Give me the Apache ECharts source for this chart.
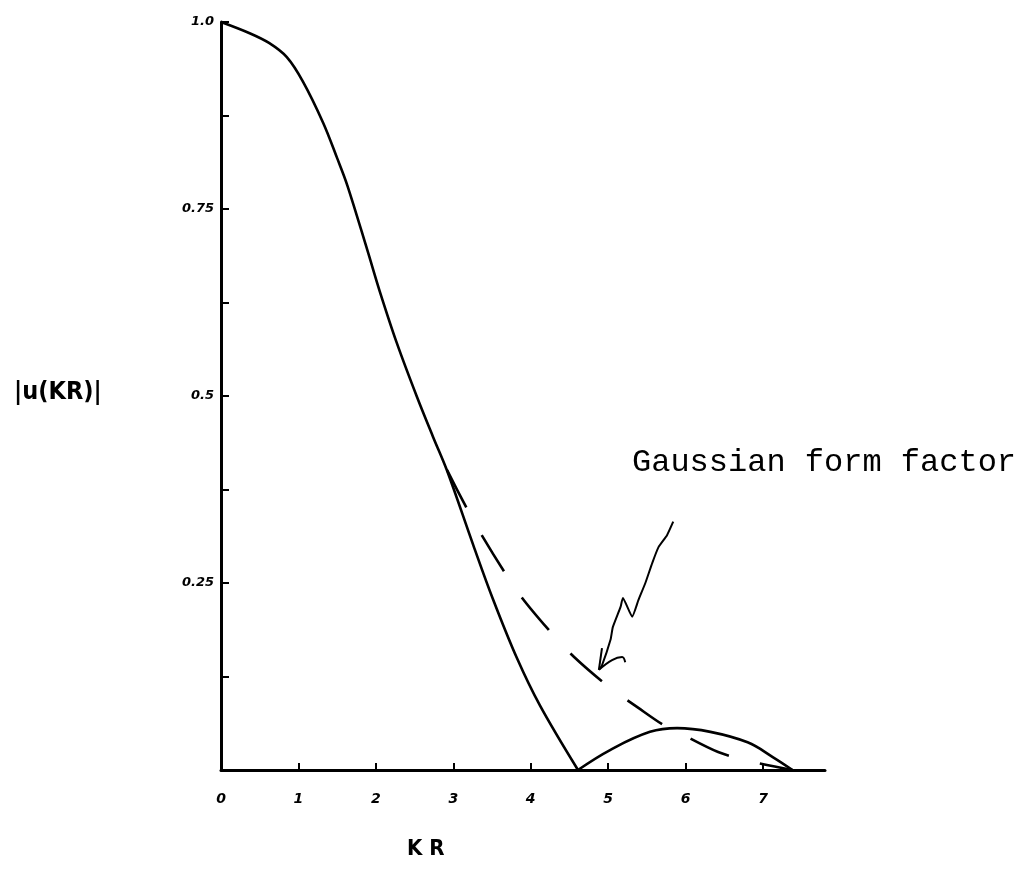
<!DOCTYPE html>
<html>
<head>
<meta charset="utf-8">
<script src="https://cdn.jsdelivr.net/npm/echarts@6/dist/echarts.min.js"></script>
<style>
html,body{margin:0;padding:0;background:#fff;}
#chart{width:1026px;height:891px;}
</style>
</head>
<body>
<div id="chart"></div>
<script>
// |u(KR)| main lobe (KR, value)
var mainLobe = [
  [0, 1.0], [0.37, 0.985], [0.62, 0.972], [0.85, 0.953], [1.06, 0.920],
  [1.32, 0.865], [1.50, 0.818], [1.63, 0.782], [1.89, 0.695], [2.05, 0.640],
  [2.27, 0.571], [2.53, 0.499], [2.74, 0.445], [2.92, 0.40], [3.26, 0.300],
  [3.51, 0.229], [3.82, 0.150], [4.12, 0.086], [4.61, 0]
];
// second lobe
var sideLobe = [
  [4.61, 0], [5.03, 0.027], [5.54, 0.051], [5.89, 0.056], [6.32, 0.051],
  [6.80, 0.037], [7.13, 0.017], [7.38, 0]
];
// Gaussian form factor (dashed)
var gaussian = [
  [2.92, 0.401], [3.31, 0.324], [3.84, 0.237], [4.26, 0.184], [4.56, 0.151],
  [5.01, 0.111], [5.39, 0.083], [5.70, 0.061], [5.93, 0.049], [6.42, 0.024],
  [6.86, 0.011], [7.38, 0.0]
];
// hand-drawn annotation arrow (data units)
var arrowShaft = [
  [5.84, 0.332], [5.76, 0.314], [5.65, 0.298], [5.57, 0.277], [5.48, 0.250],
  [5.39, 0.227], [5.31, 0.205], [5.19, 0.230], [5.16, 0.218], [5.06, 0.191],
  [5.03, 0.174], [4.92, 0.140], [4.88, 0.134]
];
var arrowBarbA = [[4.88, 0.134], [4.92, 0.163]];
var arrowBarbB = [[4.88, 0.134], [5.05, 0.147], [5.18, 0.151], [5.22, 0.144]];

var xTickLabels = ['0', '1', '2', '3', '4', '5', '6', '7'];
var yTickLabels = {0.25: '0.25', 0.5: '0.5', 0.75: '0.75', 1: '1.0'};
var annotationText = 'Gaussian form factor';
var xTitle = 'K R';
var yTitle = '|u(KR)|';

var chart = echarts.init(document.getElementById('chart'));
var lineBase = {type: 'line', showSymbol: false, symbol: 'none', silent: true, animation: false};
function mk(data, extra) {
  return Object.assign({}, lineBase, {data: data}, extra);
}
var option = {
  backgroundColor: '#ffffff',
  animation: false,
  grid: {left: 221, top: 22, right: 201, bottom: 121, containLabel: false},
  xAxis: {
    type: 'value', min: 0, max: 7.8, interval: 1,
    axisLine: {show: true, lineStyle: {color: '#000', width: 3}},
    axisTick: {show: true, inside: true, length: 7, lineStyle: {color: '#000', width: 2}},
    splitLine: {show: false},
    axisLabel: {
      margin: 22, color: '#000', fontFamily: 'DejaVu Sans', fontWeight: 'bold', fontStyle: 'italic', fontSize: 14,
      showMaxLabel: false,
      formatter: function (v) {
        var i = Math.round(v);
        return (Math.abs(v - i) < 1e-6 && i >= 0 && i < xTickLabels.length) ? xTickLabels[i] : '';
      }
    }
  },
  yAxis: {
    type: 'value', min: 0, max: 1, interval: 0.125,
    axisLine: {show: true, lineStyle: {color: '#000', width: 3}},
    axisTick: {show: true, inside: true, length: 8, lineStyle: {color: '#000', width: 2}},
    splitLine: {show: false},
    axisLabel: {
      margin: 7, color: '#000', fontFamily: 'DejaVu Sans', fontWeight: 'bold', fontStyle: 'italic', fontSize: 13,
      formatter: function (v) {
        var k = Math.round(v * 1000) / 1000;
        return yTickLabels[k] || '';
      }
    }
  },
  series: [
    mk(mainLobe, {smooth: 0.35, lineStyle: {color: '#000', width: 2.6}}),
    mk(sideLobe, {smooth: 0.4, lineStyle: {color: '#000', width: 2.6}}),
    mk(gaussian, {smooth: 0.3, lineStyle: {color: '#000', width: 2.6, type: [42, 32]}}),
    mk(arrowShaft, {smooth: 0.15, lineStyle: {color: '#000', width: 2}}),
    mk(arrowBarbA, {lineStyle: {color: '#000', width: 2}}),
    mk(arrowBarbB, {smooth: 0.4, lineStyle: {color: '#000', width: 2}})
  ],
  graphic: [
    {type: 'text', left: 632, top: 447, style: {text: annotationText, fill: '#000', font: '32px "Liberation Mono"'}},
    {type: 'text', left: 407, top: 838, style: {text: xTitle, fill: '#000', font: 'bold 22px "DejaVu Sans Condensed", "DejaVu Sans"'}},
    {type: 'text', left: 14, top: 380, style: {text: yTitle, fill: '#000', font: 'bold 25px "DejaVu Sans Condensed", "DejaVu Sans"'}}
  ]
};
chart.setOption(option);
</script>
</body>
</html>
